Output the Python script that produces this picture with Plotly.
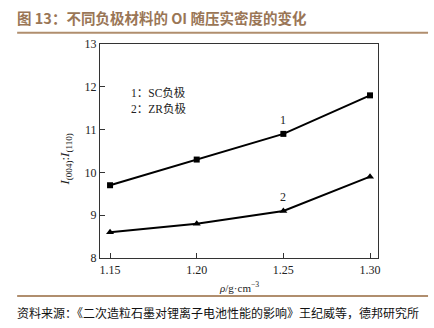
import plotly.graph_objects as go

# 压实密度 (g/cm³) 与 OI 值 I(004):I(110)
density = [1.15, 1.20, 1.25, 1.30]
oi_sc = [9.7, 10.3, 10.9, 11.8]   # 1：SC负极
oi_zr = [8.6, 8.8, 9.1, 9.9]      # 2：ZR负极
x_ticks = [1.15, 1.20, 1.25, 1.30]
x_tick_text = ["1.15", "1.20", "1.25", "1.30"]
y_ticks = [8, 9, 10, 11, 12, 13]

serif = "Liberation Serif, Times New Roman, serif"
cjk = "Noto Sans CJK SC, sans-serif"
brown = "#9a7656"

fig = go.Figure()
fig.add_trace(go.Scatter(
    x=density, y=oi_sc, mode="lines+markers",
    line=dict(color="black", width=2),
    marker=dict(symbol="square", size=6, color="black"),
    showlegend=False,
))
fig.add_trace(go.Scatter(
    x=density, y=oi_zr, mode="lines+markers",
    line=dict(color="black", width=2),
    marker=dict(symbol="triangle-up", size=7, color="black"),
    showlegend=False,
))

axis_common = dict(
    showline=True, linecolor="#333", linewidth=1.2, mirror=True,
    ticks="inside", ticklen=5, tickcolor="#333",
    showgrid=False, zeroline=False,
    tickfont=dict(family=serif, size=12, color="#222"),
)
fig.update_xaxes(range=[1.1442, 1.3046], tickvals=x_ticks, ticktext=x_tick_text, **axis_common)
fig.update_yaxes(range=[8, 13], tickvals=y_ticks, **axis_common)

ann = []
# curve numbers
ann.append(dict(x=1.25, y=10.9, text="1", showarrow=False, yshift=14,
                font=dict(family=serif, size=12, color="#222")))
ann.append(dict(x=1.25, y=9.1, text="2", showarrow=False, yshift=14,
                font=dict(family=serif, size=12, color="#222")))
# key
ann.append(dict(xref="paper", yref="paper", x=0.105, y=0.815, xanchor="left",
                text="1：SC负极", showarrow=False,
                font=dict(family=serif + ", " + cjk, size=11.5, color="#222")))
ann.append(dict(xref="paper", yref="paper", x=0.105, y=0.74, xanchor="left",
                text="2：ZR负极", showarrow=False,
                font=dict(family=serif + ", " + cjk, size=11.5, color="#222")))
# axis titles
ann.append(dict(xref="paper", yref="paper", x=0.5, y=-0.135, yanchor="middle",
                text="<i>ρ</i>/g·cm<sup>−3</sup>", showarrow=False,
                font=dict(family=serif, size=11, color="#222")))
ann.append(dict(xref="paper", yref="paper", x=-0.16, y=0.46,
                text="<i>I</i><sub>(004)</sub>:<i>I</i><sub>(110)</sub>", showarrow=False,
                textangle=-90, font=dict(family=serif, size=13, color="#222")))
# header and source
ann.append(dict(xref="paper", yref="paper", x=-0.305, y=1.122, xanchor="left", yanchor="middle",
                text="<b>图 13：不同负极材料的 OI 随压实密度的变化</b>", showarrow=False,
                font=dict(family=cjk, size=14.5, color=brown)))
ann.append(dict(xref="paper", yref="paper", x=-0.305, y=-0.255, xanchor="left", yanchor="middle",
                text="资料来源：《二次造粒石墨对锂离子电池性能的影响》王纪威等，德邦研究所",
                showarrow=False, font=dict(family=cjk, size=12, color="#111")))

fig.update_layout(
    width=434, height=328,
    margin=dict(l=100, r=56, t=44, b=70),
    paper_bgcolor="white", plot_bgcolor="white",
    annotations=ann,
    shapes=[
        dict(type="line", xref="paper", yref="paper", x0=-0.298, x1=1.18, y0=1.052, y1=1.052,
             line=dict(color="#b08e6e", width=2)),
        dict(type="line", xref="paper", yref="paper", x0=-0.298, x1=1.18, y0=-0.178, y1=-0.178,
             line=dict(color="#b08e6e", width=2)),
    ],
)

fig.write_html("out.html")
